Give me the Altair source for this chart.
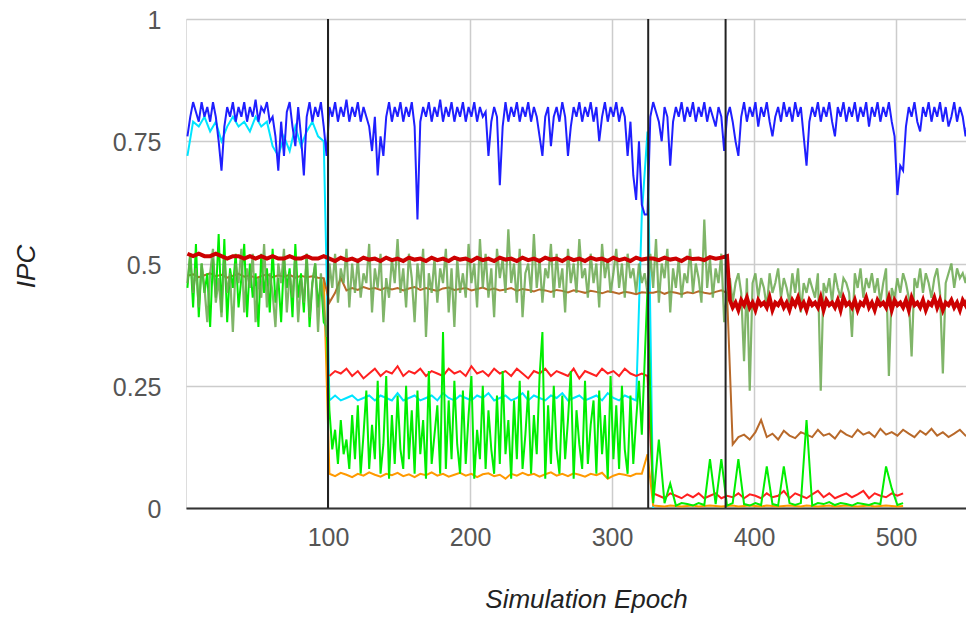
import altair as alt
import pandas as pd

# ---------------- series values ----------------
# blue: epochs 1, 3, 5, ... 553 (every 2nd epoch), 10 values per row = 20 epochs
BLUE = [0.76, 0.80, 0.83, 0.81, 0.79, 0.83, 0.80, 0.82, 0.79, 0.83,
        0.80, 0.75, 0.69, 0.78, 0.82, 0.80, 0.83, 0.79, 0.82, 0.80,
        0.83, 0.79, 0.82, 0.80, 0.835, 0.79, 0.82, 0.81, 0.83, 0.79,
        0.80, 0.76, 0.69, 0.79, 0.72, 0.81, 0.83, 0.78, 0.74, 0.82,
        0.76, 0.68, 0.80, 0.83, 0.79, 0.82, 0.80, 0.83, 0.78, 0.72,
        0.82, 0.80, 0.83, 0.79, 0.82, 0.80, 0.835, 0.79, 0.82, 0.80,
        0.83, 0.79, 0.82, 0.80, 0.78, 0.73, 0.80, 0.68, 0.76, 0.72,
        0.80, 0.83, 0.79, 0.82, 0.80, 0.83, 0.79, 0.82, 0.80, 0.83,
        0.78, 0.59, 0.79, 0.82, 0.80, 0.83, 0.79, 0.82, 0.80, 0.835,
        0.79, 0.82, 0.80, 0.83, 0.79, 0.82, 0.80, 0.83, 0.79, 0.82,
        0.80, 0.83, 0.79, 0.82, 0.80, 0.81, 0.72, 0.79, 0.82, 0.80,
        0.66, 0.78, 0.83, 0.79, 0.82, 0.80, 0.83, 0.79, 0.82, 0.80,
        0.83, 0.79, 0.82, 0.80, 0.76, 0.72, 0.80, 0.82, 0.74, 0.80,
        0.82, 0.79, 0.83, 0.80, 0.72, 0.78, 0.82, 0.80, 0.83, 0.79,
        0.82, 0.80, 0.83, 0.79, 0.82, 0.75, 0.80, 0.83, 0.79, 0.82,
        0.80, 0.83, 0.79, 0.82, 0.80, 0.72, 0.79, 0.68, 0.63, 0.75,
        0.62, 0.60, 0.60, 0.80, 0.83, 0.81, 0.79, 0.75, 0.82, 0.80,
        0.70, 0.79, 0.82, 0.80, 0.83, 0.79, 0.82, 0.80, 0.83, 0.79,
        0.82, 0.80, 0.83, 0.79, 0.82, 0.80, 0.78, 0.82, 0.80, 0.73,
        0.80, 0.82, 0.79, 0.75, 0.72, 0.80, 0.83, 0.79, 0.82, 0.80,
        0.83, 0.78, 0.82, 0.80, 0.83, 0.79, 0.76, 0.80, 0.82, 0.79,
        0.83, 0.80, 0.82, 0.79, 0.83, 0.80, 0.82, 0.76, 0.70, 0.79,
        0.82, 0.80, 0.83, 0.79, 0.82, 0.80, 0.83, 0.79, 0.76, 0.82,
        0.80, 0.83, 0.79, 0.82, 0.80, 0.83, 0.79, 0.82, 0.80, 0.83,
        0.78, 0.82, 0.80, 0.83, 0.79, 0.82, 0.80, 0.83, 0.79, 0.76,
        0.64, 0.70, 0.69, 0.78, 0.82, 0.80, 0.83, 0.79, 0.77, 0.82,
        0.80, 0.83, 0.79, 0.82, 0.80, 0.83, 0.79, 0.82, 0.78, 0.80,
        0.83, 0.79, 0.82, 0.80, 0.76, 0.80, 0.82]

# olive: epochs 1, 3, ... 553
OLIVE = [0.46, 0.52, 0.44, 0.49, 0.41, 0.50, 0.45, 0.38, 0.48, 0.53,
         0.42, 0.47, 0.39, 0.51, 0.44, 0.48, 0.36, 0.50, 0.46, 0.53,
         0.40, 0.49, 0.45, 0.52, 0.38, 0.47, 0.43, 0.54, 0.41, 0.48,
         0.44, 0.37, 0.50, 0.46, 0.53, 0.40, 0.48, 0.43, 0.51, 0.38,
         0.47, 0.42, 0.52, 0.39, 0.46, 0.50, 0.36, 0.48, 0.41, 0.35,
         0.50, 0.45, 0.52, 0.42, 0.49, 0.46, 0.53, 0.41, 0.50, 0.44,
         0.51, 0.43, 0.48, 0.46, 0.54, 0.40, 0.49, 0.45, 0.52, 0.38,
         0.47, 0.43, 0.51, 0.46, 0.55, 0.44, 0.49, 0.41, 0.52, 0.47,
         0.38, 0.50, 0.45, 0.53, 0.35, 0.48, 0.44, 0.51, 0.42, 0.49,
         0.46, 0.53, 0.40, 0.49, 0.37, 0.51, 0.44, 0.48, 0.43, 0.54,
         0.46, 0.50, 0.41, 0.55, 0.45, 0.52, 0.43, 0.49, 0.39, 0.53,
         0.47, 0.51, 0.44, 0.57, 0.46, 0.50, 0.42, 0.53, 0.39, 0.48,
         0.50, 0.44, 0.56, 0.45, 0.51, 0.42, 0.49, 0.47, 0.54, 0.43,
         0.52, 0.45, 0.49, 0.40, 0.53, 0.46, 0.50, 0.44, 0.55, 0.47,
         0.49, 0.43, 0.52, 0.46, 0.50, 0.41, 0.54, 0.47, 0.51, 0.44,
         0.48, 0.53, 0.45, 0.50, 0.43, 0.52, 0.47, 0.49, 0.44, 0.50,
         0.46, 0.48, 0.44, 0.52, 0.45, 0.55, 0.42, 0.50, 0.47, 0.53,
         0.40, 0.49, 0.45, 0.51, 0.43, 0.48, 0.46, 0.53, 0.44, 0.50,
         0.47, 0.42, 0.59, 0.45, 0.51, 0.43, 0.49, 0.46, 0.52, 0.38,
         0.44, 0.47, 0.42, 0.46, 0.48, 0.44, 0.30, 0.47, 0.24, 0.46,
         0.48, 0.43, 0.47, 0.45, 0.41, 0.48, 0.44, 0.46, 0.49, 0.43,
         0.47, 0.45, 0.42, 0.48, 0.44, 0.49, 0.40, 0.46, 0.44, 0.47,
         0.45, 0.43, 0.48, 0.24, 0.46, 0.44, 0.47, 0.42, 0.48, 0.45,
         0.43, 0.47, 0.46, 0.44, 0.35, 0.48, 0.45, 0.49, 0.43, 0.47,
         0.45, 0.48, 0.44, 0.47, 0.42, 0.46, 0.49, 0.27, 0.45, 0.43,
         0.47, 0.44, 0.48, 0.46, 0.43, 0.31, 0.47, 0.45, 0.49, 0.44,
         0.48, 0.46, 0.43, 0.47, 0.49, 0.44, 0.275, 0.46, 0.48, 0.50,
         0.45, 0.49, 0.47, 0.48, 0.46, 0.50, 0.23]

# bright green: epochs 1, 3, ... 325, then every 4th epoch 329 ... 505
GREEN_AB = [0.45, 0.52, 0.41, 0.54, 0.39, 0.50, 0.44, 0.48, 0.37, 0.51,
            0.43, 0.56, 0.40, 0.55, 0.38, 0.49, 0.45, 0.52, 0.41, 0.47,
            0.54, 0.39, 0.50, 0.43, 0.48, 0.37, 0.52, 0.44, 0.49, 0.40,
            0.53, 0.42, 0.47, 0.38, 0.51, 0.45, 0.49, 0.39, 0.54, 0.43,
            0.48, 0.40, 0.52, 0.37, 0.46, 0.50, 0.41, 0.47, 0.38, 0.37,
            0.20, 0.12, 0.16, 0.09, 0.18, 0.11, 0.14, 0.08, 0.19, 0.10,
            0.21, 0.07, 0.15, 0.24, 0.08, 0.17, 0.10, 0.26, 0.07, 0.13,
            0.27, 0.06, 0.19, 0.09, 0.23, 0.12, 0.08, 0.25, 0.10, 0.20,
            0.07, 0.24, 0.11, 0.18, 0.06, 0.28, 0.09, 0.15, 0.21, 0.07,
            0.36, 0.08, 0.22, 0.10, 0.26, 0.13, 0.07, 0.24, 0.09, 0.19,
            0.27, 0.06, 0.16, 0.10, 0.25, 0.08, 0.20, 0.12, 0.07, 0.23,
            0.09, 0.28, 0.11, 0.18, 0.06, 0.22, 0.10, 0.26, 0.08, 0.15,
            0.24, 0.07, 0.19, 0.11, 0.27, 0.36, 0.06, 0.21, 0.09, 0.25,
            0.12, 0.07, 0.23, 0.10, 0.18, 0.28, 0.06, 0.20, 0.13, 0.08,
            0.26, 0.09, 0.17, 0.22, 0.07, 0.24, 0.11, 0.19, 0.06, 0.27,
            0.10, 0.21, 0.08, 0.25, 0.12, 0.07, 0.23, 0.09, 0.18, 0.26,
            0.15, 0.30, 0.45]
GREEN_CD = [0.01, 0.14, 0.01, 0.05, 0.005,
            0.01, 0.008, 0.005, 0.01, 0.006,
            0.10, 0.008, 0.10, 0.005, 0.01,
            0.10, 0.008, 0.005, 0.01, 0.006,
            0.085, 0.008, 0.005, 0.085, 0.01,
            0.006, 0.01, 0.18, 0.005, 0.01,
            0.008, 0.012, 0.006, 0.01, 0.008,
            0.005, 0.01, 0.008, 0.006, 0.01,
            0.008, 0.085, 0.04, 0.006, 0.01]

# remaining series: every 4th epoch
CYAN_A = [0.72, 0.79, 0.78, 0.80, 0.77,
          0.79, 0.75, 0.78, 0.80, 0.78,
          0.79, 0.77, 0.80, 0.78, 0.79,
          0.74, 0.72, 0.76, 0.73, 0.78,
          0.74, 0.77, 0.79, 0.76, 0.75]
CYAN_B = [0.22, 0.23, 0.22, 0.225, 0.23,
          0.22, 0.225, 0.23, 0.22, 0.23,
          0.225, 0.22, 0.235, 0.22, 0.225,
          0.23, 0.22, 0.225, 0.23, 0.22,
          0.235, 0.225, 0.22, 0.23, 0.225,
          0.22, 0.23, 0.225, 0.235, 0.22,
          0.225, 0.23, 0.22, 0.225, 0.235,
          0.22, 0.23, 0.225, 0.22, 0.23,
          0.225, 0.235, 0.22, 0.225, 0.23,
          0.22, 0.225, 0.23, 0.22, 0.235,
          0.225, 0.22, 0.23, 0.225, 0.22,
          0.60, 0.77]
CYAN_C = [0.0]

DRED_A = [0.52, 0.515, 0.52, 0.515, 0.515,
          0.52, 0.515, 0.51, 0.515, 0.515,
          0.51, 0.515, 0.51, 0.515, 0.51,
          0.515, 0.51, 0.51, 0.515, 0.51,
          0.51, 0.515, 0.51, 0.51, 0.515]
DRED_B = [0.51, 0.505, 0.512, 0.507, 0.51,
          0.505, 0.512, 0.508, 0.51, 0.505,
          0.512, 0.507, 0.51, 0.505, 0.512,
          0.508, 0.51, 0.505, 0.512, 0.507,
          0.51, 0.505, 0.512, 0.508, 0.51,
          0.505, 0.512, 0.507, 0.51, 0.505,
          0.512, 0.508, 0.51, 0.505, 0.512,
          0.507, 0.51, 0.505, 0.512, 0.508,
          0.51, 0.505, 0.512, 0.507, 0.51,
          0.505, 0.512, 0.508, 0.51, 0.505,
          0.512, 0.507, 0.51, 0.505, 0.512,
          0.508, 0.51]
DRED_C = [0.51, 0.507, 0.512, 0.508, 0.51,
          0.505, 0.512, 0.509, 0.51, 0.507,
          0.513, 0.51, 0.512, 0.515]
# dark red after the drop: epochs 383, 385, ... 553
DRED_DE = [0.425, 0.41, 0.42, 0.405, 0.425, 0.415, 0.43, 0.41, 0.42, 0.405,
           0.425, 0.415, 0.42, 0.41, 0.43, 0.405, 0.42, 0.415, 0.425, 0.41,
           0.42, 0.405, 0.425, 0.415, 0.43, 0.41, 0.42, 0.405, 0.425, 0.415,
           0.42, 0.41, 0.43, 0.405, 0.425, 0.415, 0.42, 0.41, 0.425, 0.405,
           0.43, 0.415, 0.42, 0.41, 0.425, 0.405, 0.42, 0.415, 0.43, 0.41,
           0.42, 0.405, 0.425, 0.415, 0.42, 0.41, 0.43, 0.405, 0.425, 0.415,
           0.42, 0.41, 0.425, 0.405, 0.43, 0.415, 0.42, 0.41, 0.425, 0.405,
           0.42, 0.415, 0.43, 0.41, 0.425, 0.405, 0.42, 0.415, 0.425, 0.41,
           0.42, 0.405, 0.425, 0.415, 0.43, 0.42]

RED_B = [0.27, 0.28, 0.275, 0.285, 0.27,
         0.28, 0.265, 0.275, 0.285, 0.27,
         0.28, 0.275, 0.29, 0.27, 0.28,
         0.275, 0.285, 0.27, 0.28, 0.275,
         0.27, 0.285, 0.275, 0.28, 0.27,
         0.29, 0.275, 0.28, 0.27, 0.285,
         0.275, 0.28, 0.27, 0.285, 0.275,
         0.265, 0.28, 0.275, 0.285, 0.27,
         0.28, 0.275, 0.27, 0.285, 0.265,
         0.28, 0.275, 0.27, 0.285, 0.275,
         0.28, 0.27, 0.285, 0.275, 0.27,
         0.275, 0.27]
RED_CD = [0.03, 0.025, 0.02, 0.03, 0.025,
          0.02, 0.028, 0.022, 0.03, 0.02,
          0.025, 0.03, 0.02, 0.025, 0.022,
          0.03, 0.02, 0.028, 0.025, 0.02,
          0.03, 0.022, 0.025, 0.035, 0.02,
          0.03, 0.025, 0.02, 0.028, 0.035,
          0.022, 0.03, 0.02, 0.025, 0.03,
          0.022, 0.028, 0.035, 0.02, 0.03,
          0.025, 0.022, 0.03, 0.025, 0.03]

ORANGE_A = [0.47]
ORANGE_B = [0.07, 0.065, 0.072, 0.068, 0.063,
            0.07, 0.066, 0.073, 0.068, 0.064,
            0.07, 0.067, 0.072, 0.065, 0.069,
            0.063, 0.07, 0.067, 0.073, 0.066,
            0.07, 0.064, 0.068, 0.072, 0.066,
            0.07, 0.063, 0.069, 0.071, 0.065,
            0.068, 0.06, 0.07, 0.066, 0.072,
            0.067, 0.07, 0.064, 0.069, 0.073,
            0.066, 0.07, 0.065, 0.071, 0.068,
            0.064, 0.07, 0.067, 0.072, 0.06,
            0.066, 0.07, 0.068, 0.065, 0.07,
            0.07, 0.11]
ORANGE_CD = [0.005, 0.004, 0.003, 0.005, 0.004,
             0.003, 0.004, 0.005, 0.003, 0.004,
             0.005, 0.004, 0.003, 0.004, 0.005,
             0.003, 0.004, 0.005, 0.004, 0.003,
             0.005, 0.004, 0.003, 0.004, 0.005,
             0.004, 0.003, 0.005, 0.004, 0.003,
             0.004, 0.005, 0.003, 0.004, 0.005,
             0.004, 0.003, 0.004, 0.005, 0.003,
             0.004, 0.005, 0.004, 0.003, 0.004]

BROWN_A = [0.475, 0.478, 0.472, 0.476, 0.48,
           0.474, 0.477, 0.471, 0.475, 0.479,
           0.473, 0.476, 0.47, 0.474, 0.478,
           0.472, 0.476, 0.473, 0.477, 0.471,
           0.475, 0.472, 0.474, 0.471, 0.47]
BROWN_B = [0.42, 0.44, 0.47, 0.445, 0.45,
           0.446, 0.452, 0.448, 0.45, 0.446,
           0.451, 0.447, 0.45, 0.445, 0.449,
           0.452, 0.446, 0.45, 0.447, 0.444,
           0.449, 0.451, 0.446, 0.448, 0.45,
           0.445, 0.448, 0.451, 0.446, 0.449,
           0.445, 0.447, 0.45, 0.444, 0.448,
           0.446, 0.443, 0.447, 0.445, 0.442,
           0.446, 0.444, 0.441, 0.445, 0.443,
           0.44, 0.444, 0.442, 0.439, 0.443,
           0.441, 0.438, 0.442, 0.44, 0.437,
           0.441, 0.44]
BROWN_C = [0.44, 0.443, 0.438, 0.442, 0.44,
           0.437, 0.441, 0.439, 0.443, 0.44,
           0.438, 0.442, 0.445, 0.44]
BROWN_D = [0.13, 0.145, 0.15, 0.14, 0.155,
           0.18, 0.145, 0.152, 0.14, 0.158,
           0.148, 0.143, 0.155, 0.15, 0.145,
           0.16, 0.148, 0.152, 0.142, 0.158,
           0.15, 0.145, 0.16, 0.15, 0.155,
           0.145, 0.162, 0.15, 0.155, 0.148,
           0.16]
BROWN_E = [0.152, 0.145, 0.158, 0.15, 0.162,
           0.148, 0.155, 0.145, 0.152, 0.16,
           0.148, 0.145]

# phase boundaries (vertical black rules)
EVENTS = [100, 325.5, 380]

X_TICKS = [100, 200, 300, 400, 500]
Y_TICKS = [0, 0.25, 0.5, 0.75, 1]

# drawing order: first = bottom; chunks are (first epoch, epoch step, values)
SERIES = [
    ("cyan",   "#00e5ff", 2.0, 1.0, [(1, 4, CYAN_A), (101, 4, CYAN_B), (329, 4, CYAN_C)]),
    ("blue",   "#1f1fff", 2.0, 1.0, [(1, 2, BLUE)]),
    ("orange", "#ff9900", 2.0, 1.0, [(97, 4, ORANGE_A), (101, 4, ORANGE_B), (329, 4, ORANGE_CD)]),
    ("red",    "#ff2020", 2.0, 1.0, [(101, 4, RED_B), (329, 4, RED_CD)]),
    ("brown",  "#b8692a", 2.0, 1.0, [(1, 4, BROWN_A), (101, 4, BROWN_B), (329, 4, BROWN_C),
                                     (385, 4, BROWN_D), (509, 4, BROWN_E)]),
    ("green",  "#00ee00", 2.0, 1.0, [(1, 2, GREEN_AB), (329, 4, GREEN_CD)]),
    ("olive",  "#6aa84f", 2.2, 0.85, [(1, 2, OLIVE)]),
    ("dred",   "#cc0000", 4.0, 1.0, [(1, 4, DRED_A), (101, 4, DRED_B), (329, 4, DRED_C),
                                     (383, 2, DRED_DE)]),
]

rows = []
for name, _c, _w, _o, chunks in SERIES:
    for start, step, vals in chunks:
        for i, v in enumerate(vals):
            rows.append({"series": name, "epoch": start + step * i, "ipc": v})
df = pd.DataFrame(rows)

FONT = "Liberation Sans"
# visible window of the x axis (the page is 958 px wide inside its margins)
xscale = alt.Scale(domain=[0, 549.3], nice=False, zero=False)
yscale = alt.Scale(domain=[0, 1], nice=False)

xaxis = alt.Axis(
    values=X_TICKS, title="Simulation Epoch", grid=True, gridColor="#cccccc", gridWidth=1.5,
    domain=True, domainColor="#333333", domainWidth=2, ticks=False, tickSize=0,
    labelPadding=17, labelFontSize=25, labelColor="#555555", labelFont=FONT,
    labelFlush=False, labelOverlap=False,
    titleFont=FONT, titleFontSize=26, titleFontStyle="italic", titleFontWeight="normal",
    titleColor="#222222", titleX=400, titleY=99, titleAlign="center", titleBaseline="alphabetic",
)
yaxis = alt.Axis(
    values=Y_TICKS, labelExpr="toString(datum.value)", title="IPC", grid=True,
    gridColor="#cccccc", gridWidth=1.5,
    domain=False, ticks=False, tickSize=0,
    labelPadding=25, labelFontSize=25, labelColor="#555555", labelFont=FONT,
    labelFlush=False, labelOverlap=False, labelOffset=1.5,
    titleFont=FONT, titleFontSize=26, titleFontStyle="italic", titleFontWeight="normal",
    titleColor="#222222", titleX=-152, titleY=247, titleAngle=270, titleAlign="center",
    titleBaseline="alphabetic",
)

base = alt.Chart(df)
layers = []
for name, color, width, opacity, _chunks in SERIES:
    layers.append(
        base.transform_filter(alt.datum.series == name)
        .mark_line(color=color, strokeWidth=width, opacity=opacity, clip=True)
        .encode(
            x=alt.X("epoch:Q", scale=xscale, axis=xaxis),
            y=alt.Y("ipc:Q", scale=yscale, axis=yaxis),
        )
    )

rules = alt.Chart(pd.DataFrame({"epoch": EVENTS})).mark_rule(color="#222222", strokeWidth=2).encode(
    x=alt.X("epoch:Q", scale=xscale, axis=xaxis)
)
layers.append(rules)

chart = alt.layer(*layers).properties(
    width=780, height=489,
    autosize=alt.AutoSizeParams(type="none"),
    padding={"left": 178, "top": 11, "right": 0, "bottom": 107},
).configure_view(stroke=None).configure(background="white")

chart.save("out.html", embed_options={"renderer": "svg", "actions": False})
